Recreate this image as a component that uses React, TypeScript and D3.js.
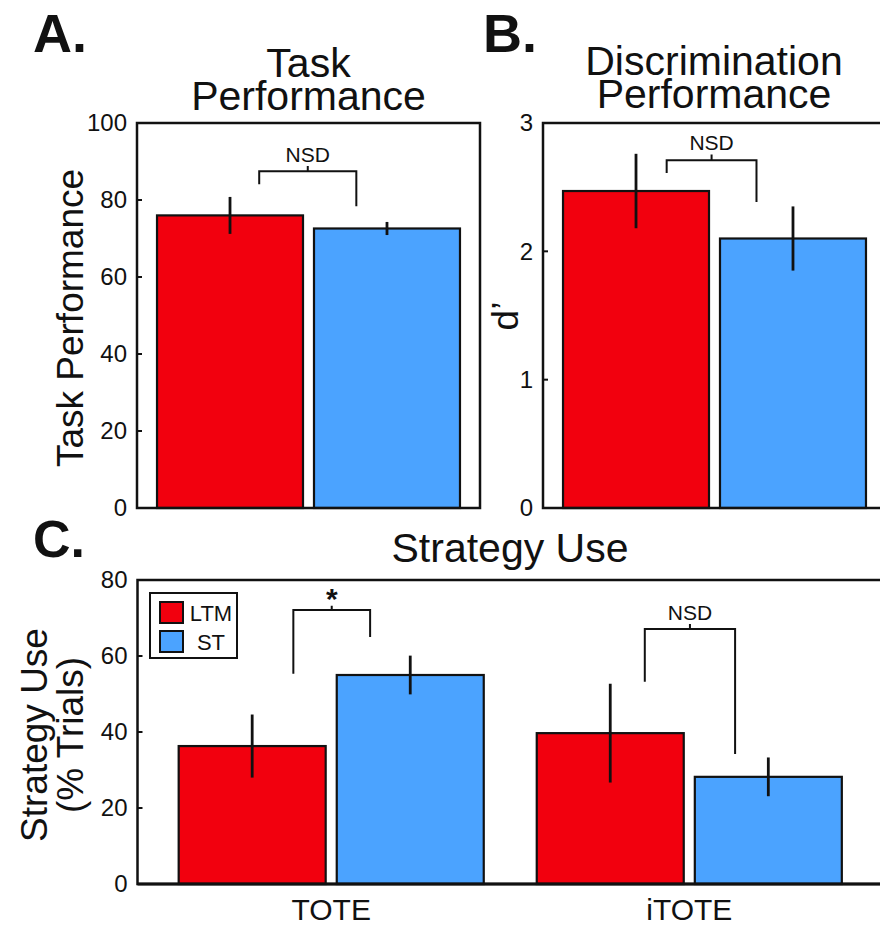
import React, { useEffect } from "react";
import * as d3 from "d3";

// Conditions shown in every panel
const conditions = ["LTM", "ST"];
const conditionColors = ["#f2000e", "#4ba3ff"];

// Panel A: task performance (mean, SEM)
const taskMeans = [76.0, 72.6];
const taskErrs = [4.8, 1.7];
const taskTicks = [0, 20, 40, 60, 80, 100];

// Panel B: d' (mean, SEM)
const dprimeMeans = [2.47, 2.1];
const dprimeErrs = [0.29, 0.25];
const dprimeTicks = [0, 1, 2, 3];

// Panel C: strategy use (% trials)
const strategies = ["TOTE", "iTOTE"];
const strategyLTM = [36.3, 39.7];
const strategyLTMErr = [8.3, 13.0];
const strategyST = [55.0, 28.2];
const strategySTErr = [5.1, 5.1];
const strategyTicks = [0, 20, 40, 60, 80];

// Significance brackets: legs placed as a fraction across each bar, heights in data units
const bracketA = { label: "NSD", f1: 0.7, f2: 0.29, top: 87.5, tick: 1.3, b1: 84.1, b2: 78.4 };
const bracketB = { label: "NSD", f1: 0.71, f2: 0.25, top: 2.71, tick: 0.045, b1: 2.61, b2: 2.385 };
const bracketsC = [
  { label: "*", f1: 0.78, f2: 0.227, top: 72.1, tick: 1.1, b1: 55.3, b2: 65.0 },
  { label: "NSD", f1: 0.735, f2: 0.274, top: 67.1, tick: 1.3, b1: 53.2, b2: 34.2 },
];

const FONT = "'Liberation Sans', Arial, Helvetica, sans-serif";
const INK = "#111";

type Bracket = typeof bracketA;

function BracketMark({ x1, x2, y, b, bold }: { x1: number; x2: number; y: d3.ScaleLinear<number, number>; b: Bracket; bold?: boolean }) {
  const cx = (x1 + x2) / 2;
  const yTop = y(b.top);
  const path = `M${x1},${y(b.b1)}V${yTop}H${x2}V${y(b.b2)}M${cx},${yTop}V${y(b.top + b.tick)}`;
  return (
    <g>
      <path d={path} fill="none" stroke={INK} strokeWidth={2} />
      {bold ? (
        <text x={cx} y={y(b.top + b.tick) + 3} textAnchor="middle" fontSize={30} fontWeight="bold" fontFamily={FONT} fill={INK}>
          {b.label}
        </text>
      ) : (
        <text x={cx} y={y(b.top + b.tick) - 4} textAnchor="middle" fontSize={21} fontFamily={FONT} fill={INK}>
          {b.label}
        </text>
      )}
    </g>
  );
}

function YAxis({ y, x, ticks }: { y: d3.ScaleLinear<number, number>; x: number; ticks: number[] }) {
  return (
    <g>
      {ticks.map((t) => (
        <g key={t}>
          <line x1={x} x2={x + 5} y1={y(t)} y2={y(t)} stroke={INK} strokeWidth={2} />
          <text x={x - 10} y={y(t)} dy="0.35em" textAnchor="end" fontSize={24} fontFamily={FONT} fill={INK}>
            {String(t)}
          </text>
        </g>
      ))}
    </g>
  );
}

function TwoBarPanel({
  x0, x1, yTop, yBottom, means, errs, ticks, domainMax, bracket,
}: {
  x0: number; x1: number; yTop: number; yBottom: number; means: number[]; errs: number[];
  ticks: number[]; domainMax: number; bracket: Bracket;
}) {
  const x = d3.scaleBand<string>().domain(conditions).range([x0, x1]).paddingInner(0.07).paddingOuter(0.1275);
  const y = d3.scaleLinear().domain([0, domainMax]).range([yBottom, yTop]);
  const bw = x.bandwidth();
  return (
    <g>
      {conditions.map((c, i) => (
        <rect key={c} x={x(c)!} y={y(means[i])} width={bw} height={y(0) - y(means[i])}
          fill={conditionColors[i]} stroke={INK} strokeWidth={2.2} />
      ))}
      {conditions.map((c, i) => (
        <line key={c} x1={x(c)! + bw / 2} x2={x(c)! + bw / 2} y1={y(means[i] + errs[i])} y2={y(means[i] - errs[i])}
          stroke={INK} strokeWidth={2.8} />
      ))}
      <BracketMark x1={x(conditions[0])! + bw * bracket.f1} x2={x(conditions[1])! + bw * bracket.f2} y={y} b={bracket} />
      <path d={`M${x0},${yBottom}V${yTop}H${x1}V${yBottom}Z`} fill="none" stroke={INK} strokeWidth={2.5} />
      <YAxis y={y} x={x0} ticks={ticks} />
    </g>
  );
}

export default function App() {
  useEffect(() => {
    document.body.style.margin = "0";
  }, []);

  // Panel C scales
  const cx0 = 137.5, cx1 = 883, cTop = 580, cBottom = 884;
  const xOuter = d3.scaleBand<string>().domain(strategies).range([cx0, cx1]).paddingInner(0.148).paddingOuter(0.115);
  const xInner = d3.scaleBand<string>().domain(conditions).range([0, xOuter.bandwidth()]).paddingInner(0.07);
  const yC = d3.scaleLinear().domain([0, 80]).range([cBottom, cTop]);
  const bwC = xInner.bandwidth();
  const seriesC = [
    { means: strategyLTM, errs: strategyLTMErr },
    { means: strategyST, errs: strategySTErr },
  ];

  return (
    <svg width={880} height={925} style={{ display: "block", background: "#fff" }} fontFamily={FONT}>
      {/* Panel letters */}
      <text x={33} y={52} fontSize={54} fontWeight="bold" fill={INK}>A.</text>
      <text x={483} y={52} fontSize={54} fontWeight="bold" fill={INK}>B.</text>
      <text x={33} y={557} fontSize={52} fontWeight="bold" fill={INK}>C.</text>

      {/* Panel A */}
      <text x={308.5} textAnchor="middle" fontSize={41} fill={INK}>
        <tspan x={308.5} y={77}>Task</tspan>
        <tspan x={308.5} y={110}>Performance</tspan>
      </text>
      <text transform="translate(83,318) rotate(-90)" textAnchor="middle" fontSize={37} fill={INK}>Task Performance</text>
      <TwoBarPanel x0={137} x1={480} yTop={123} yBottom={508} means={taskMeans} errs={taskErrs}
        ticks={taskTicks} domainMax={100} bracket={bracketA} />

      {/* Panel B */}
      <text x={714} textAnchor="middle" fontSize={41} fill={INK}>
        <tspan x={714} y={75}>Discrimination</tspan>
        <tspan x={714} y={108}>Performance</tspan>
      </text>
      <text transform="translate(518,316) rotate(-90)" textAnchor="middle" fontSize={37} fill={INK}>d’</text>
      <TwoBarPanel x0={543} x1={886} yTop={123} yBottom={508} means={dprimeMeans} errs={dprimeErrs}
        ticks={dprimeTicks} domainMax={3} bracket={bracketB} />

      {/* Panel C */}
      <text x={510} y={562} textAnchor="middle" fontSize={41} fill={INK}>Strategy Use</text>
      <text transform="translate(47,735) rotate(-90)" textAnchor="middle" fontSize={37} fill={INK}>Strategy Use</text>
      <text transform="translate(83,735) rotate(-90)" textAnchor="middle" fontSize={37} fill={INK}>(% Trials)</text>
      {strategies.map((s, si) => (
        <g key={s} transform={`translate(${xOuter(s)},0)`}>
          {conditions.map((c, ci) => (
            <rect key={c} x={xInner(c)!} y={yC(seriesC[ci].means[si])} width={bwC}
              height={yC(0) - yC(seriesC[ci].means[si])} fill={conditionColors[ci]} stroke={INK} strokeWidth={2.2} />
          ))}
          {conditions.map((c, ci) => (
            <line key={c} x1={xInner(c)! + bwC / 2} x2={xInner(c)! + bwC / 2}
              y1={yC(seriesC[ci].means[si] + seriesC[ci].errs[si])} y2={yC(seriesC[ci].means[si] - seriesC[ci].errs[si])}
              stroke={INK} strokeWidth={2.8} />
          ))}
          <BracketMark x1={xInner(conditions[0])! + bwC * bracketsC[si].f1} x2={xInner(conditions[1])! + bwC * bracketsC[si].f2}
            y={yC} b={bracketsC[si]} bold={bracketsC[si].label === "*"} />
          <text x={xOuter.bandwidth() / 2} y={920} textAnchor="middle" fontSize={30} fill={INK}>{s}</text>
        </g>
      ))}
      <path d={`M${cx1},${cBottom}H${cx0}V${cTop}H${cx1}`} fill="none" stroke={INK} strokeWidth={2.5} />
      <line x1={cx0} x2={cx1} y1={cBottom} y2={cBottom} stroke={INK} strokeWidth={3} />
      <YAxis y={yC} x={cx0} ticks={strategyTicks} />

      {/* Legend */}
      <g>
        <rect x={150} y={593} width={87} height={65} fill="#fff" stroke={INK} strokeWidth={2} />
        {conditions.map((c, i) => (
          <g key={c}>
            <rect x={160} y={602 + i * 29} width={23} height={21} fill={conditionColors[i]} stroke={INK} strokeWidth={2} />
            <text x={211} y={621 + i * 29} textAnchor="middle" fontSize={22} fill={INK}>{c}</text>
          </g>
        ))}
      </g>
    </svg>
  );
}
